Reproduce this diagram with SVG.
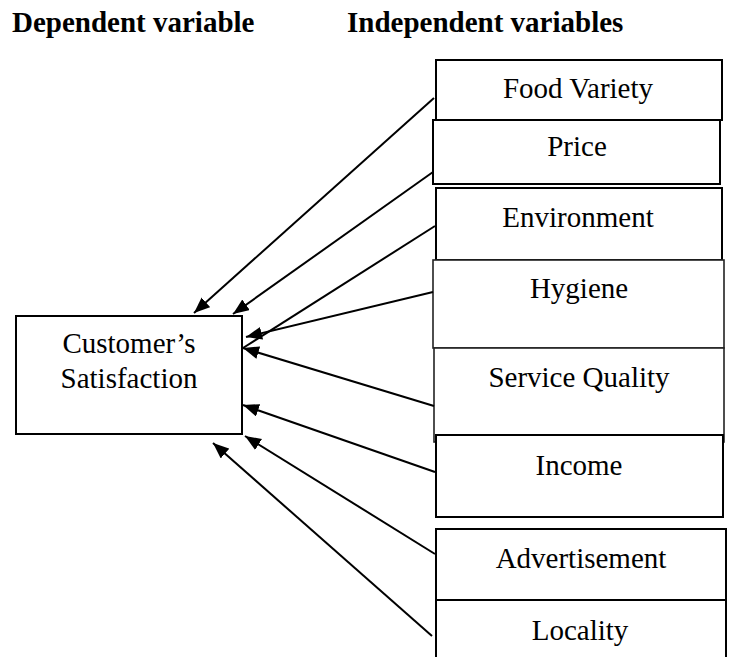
<svg xmlns="http://www.w3.org/2000/svg" width="729" height="657" viewBox="0 0 729 657">
<defs>
<style>
.box{fill:#fff;stroke:#000;stroke-width:2}
.thin{stroke:#222;stroke-width:1.6}
.t{font-family:'Liberation Serif','Times New Roman',Tinos,'DejaVu Serif',serif;font-size:29px;fill:#000;text-anchor:middle}
.h{font-family:'Liberation Serif','Times New Roman',Tinos,'DejaVu Serif',serif;font-size:29px;font-weight:bold;fill:#000}
.c{stroke:#000;stroke-width:2;fill:none}
.a{marker-end:url(#arr)}
</style>
<marker id="arr" markerUnits="userSpaceOnUse" markerWidth="17" markerHeight="14" refX="16" refY="6.5" orient="auto">
<path d="M0,0 L16,6.5 L0,13 z" fill="#000"/>
</marker>
</defs>
<rect width="729" height="657" fill="#fff"/>
<g id="headings" font-family="Liberation Serif, serif">
<text class="h" x="12" y="32">Dependent variable</text>
<text class="h" x="347" y="32">Independent variables</text>
</g>
<g id="customer-satisfaction" font-family="Liberation Serif, serif">
<rect class="box" x="16" y="316" width="226" height="118"/>
<text class="t" x="129" y="353">Customer’s</text>
<text class="t" x="129" y="388">Satisfaction</text>
</g>
<g id="food-variety">
<rect class="box" x="436" y="60" width="286" height="60"/>
<text class="t" x="578" y="98">Food Variety</text>
</g>
<g id="price">
<rect class="box" x="433" y="120" width="287" height="64"/>
<text class="t" x="577" y="156">Price</text>
</g>
<g id="environment">
<rect class="box" x="436" y="188" width="286" height="72"/>
<text class="t" x="578" y="227">Environment</text>
</g>
<g id="hygiene">
<rect class="box thin" x="433" y="260" width="291" height="88"/>
<text class="t" x="579" y="298">Hygiene</text>
</g>
<g id="service-quality">
<rect class="box thin" x="434" y="348" width="290" height="94"/>
<text class="t" x="579" y="387">Service Quality</text>
</g>
<g id="income">
<rect class="box" x="436" y="435" width="287" height="82"/>
<text class="t" x="579" y="475">Income</text>
</g>
<g id="advertisement">
<rect class="box" x="436" y="529" width="290" height="71"/>
<text class="t" x="581" y="568">Advertisement</text>
</g>
<g id="locality">
<rect class="box" x="436" y="600" width="290" height="70"/>
<text class="t" x="580" y="640">Locality</text>
</g>
<g id="connectors">
<line class="c a" x1="434" y1="98" x2="194" y2="313"/>
<line class="c a" x1="433" y1="172" x2="233" y2="314"/>
<line class="c" x1="435" y1="226" x2="243" y2="348"/>
<line class="c a" x1="433" y1="292" x2="246" y2="337"/>
<line class="c a" x1="434" y1="406" x2="243" y2="348"/>
<line class="c a" x1="435" y1="472" x2="243" y2="405"/>
<line class="c a" x1="435" y1="554" x2="245" y2="436"/>
<line class="c a" x1="432" y1="636" x2="213" y2="443"/>
</g>
</svg>
